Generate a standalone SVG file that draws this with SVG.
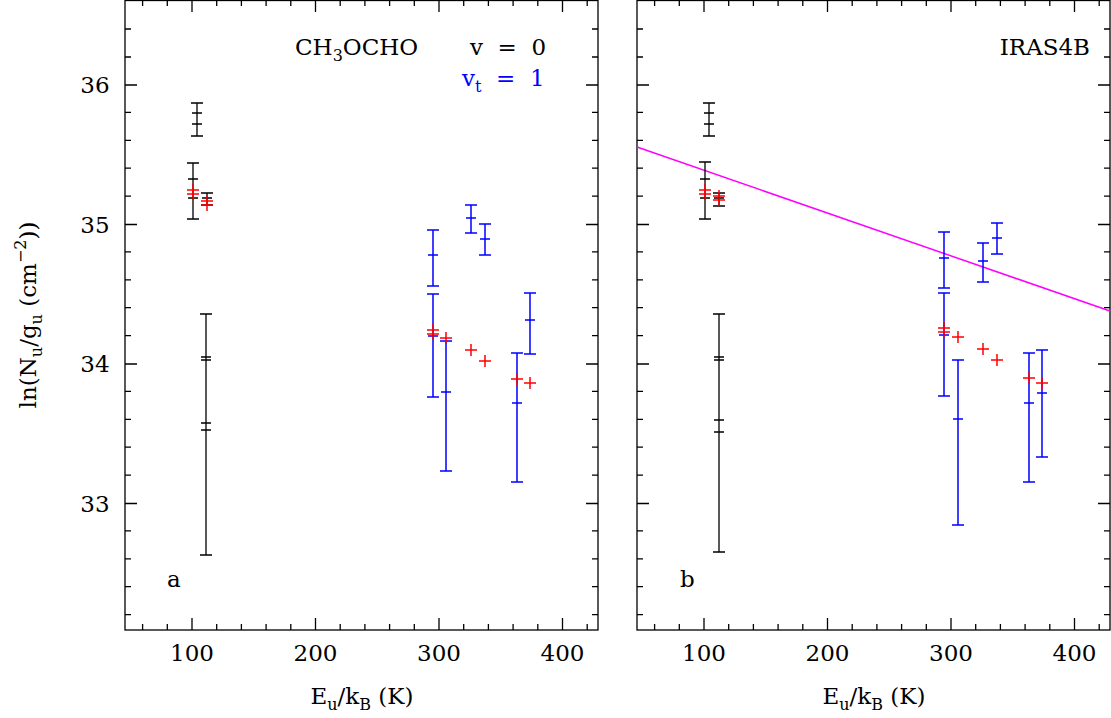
<svg xmlns="http://www.w3.org/2000/svg" xmlns:xlink="http://www.w3.org/1999/xlink" width="1111" height="718" viewBox="0 0 1111 718">
<style>
.ax{fill:none;stroke:#000;stroke-width:1.3}
.k{fill:none;stroke:#000;stroke-width:1.3}
.b{fill:none;stroke:#0000ff;stroke-width:1.5}
.r{fill:none;stroke:#ff0000;stroke-width:1.5}
text{font-family:"DejaVu Serif","Liberation Serif",serif;font-size:23px}
.tl{text-anchor:middle}
</style>
<defs>
<g id="axes">
<rect class="ax" x="125" y="0.5" width="473" height="629.5"/>
<path class="ax" d="M142.6 630v-6M167.3 630v-6M216.7 630v-6M241.4 630v-6M266.1 630v-6M290.8 630v-6M340.2 630v-6M364.9 630v-6M389.6 630v-6M414.3 630v-6M463.7 630v-6M488.4 630v-6M513.1 630v-6M537.8 630v-6M587.2 630v-6M192 630v-12M315.5 630v-12M439 630v-12M562.5 630v-12
M142.6 0v6M167.3 0v6M216.7 0v6M241.4 0v6M266.1 0v6M290.8 0v6M340.2 0v6M364.9 0v6M389.6 0v6M414.3 0v6M463.7 0v6M488.4 0v6M513.1 0v6M537.8 0v6M587.2 0v6M192 0v12M315.5 0v12M439 0v12M562.5 0v12
M125 614.6h6M125 586.7h6M125 558.8h6M125 530.9h6M125 475.1h6M125 447.2h6M125 419.3h6M125 391.4h6M125 335.6h6M125 307.7h6M125 279.8h6M125 251.9h6M125 196.1h6M125 168.2h6M125 140.3h6M125 112.4h6M125 57h6M125 29h6M125 85h12M125 224.5h12M125 364h12M125 503.5h12
M598 614.6h-6M598 586.7h-6M598 558.8h-6M598 530.9h-6M598 475.1h-6M598 447.2h-6M598 419.3h-6M598 391.4h-6M598 335.6h-6M598 307.7h-6M598 279.8h-6M598 251.9h-6M598 196.1h-6M598 168.2h-6M598 140.3h-6M598 112.4h-6M598 57h-6M598 29h-6M598 85h-12M598 224.5h-12M598 364h-12M598 503.5h-12"/>
<g class="tl">
<text x="192" y="661">100</text><text x="315.5" y="661">200</text><text x="439" y="661">300</text><text x="562.5" y="661">400</text>
<text x="362" y="704" xml:space="preserve">E<tspan font-size="16" dy="6">u</tspan><tspan dy="-6">/k</tspan><tspan font-size="16" dy="6">B</tspan><tspan dy="-6"> (K)</tspan></text>
</g>
</g>
</defs>
<use xlink:href="#axes"/>
<use xlink:href="#axes" x="512"/>
<g class="tl">
<text x="95" y="93">36</text><text x="95" y="233">35</text><text x="95" y="372">34</text><text x="95" y="512">33</text>
</g>
<text transform="translate(36,315) rotate(-90)" text-anchor="middle" xml:space="preserve">ln(N<tspan font-size="16" dy="6">u</tspan><tspan dy="-6">/g</tspan><tspan font-size="16" dy="6">u</tspan><tspan dy="-6"> (cm</tspan><tspan font-size="16" dy="-10">−2</tspan><tspan dy="10">))</tspan></text>
<text x="295" y="55">CH<tspan font-size="16" dy="6">3</tspan><tspan dy="-6">OCHO</tspan></text>
<text x="470" y="55" xml:space="preserve">v  =  0</text>
<text x="462" y="86" fill="#0000ff" xml:space="preserve">v<tspan font-size="16" dy="6">t</tspan><tspan dy="-6">  =  1</tspan></text>
<text x="167" y="587">a</text>
<text x="680" y="587">b</text>
<text x="1090" y="55" text-anchor="end">IRAS4B</text>
<g id="fit"><path d="M637 147L1110 311" stroke="#ff00ff" stroke-width="1.5" fill="none"/></g>
<g id="data-a">
<path class="k" d="M197 103V136M191 103h12M191 136h12M192 113h10M192 124h10
M193 163V219M187 163h12M187 219h12M188 179h10M188 198h10
M207 193V205M201 193h12M201 205h12M202 198h10
M206 314V555M200 314h12M200 555h12M201 357h10M201 360h10M201 423h10M201 430h10"/>
<path class="b" d="M433 230V286M427 230h12M427 286h12M428 255h10
M433 294V397M427 294h12M427 397h12M428 336h10
M446 341V471M440 341h12M440 471h12M441 392h10
M471 205V233M465 205h12M465 233h12M466 218h10
M485 224V255M479 224h12M479 255h12M480 239h10
M517 353V482M511 353h12M511 482h12M512 403h10
M530 293V354M524 293h12M524 354h12M525 320h10"/>
<path class="r" d="M187 190h12M193 184v12M187 194h12M193 188v12M201 201h12M207 195v12M201 205h12M207 199v12
M427 330h12M433 324v12M427 334h12M433 328v12M440 338h12M446 332v12M465 350h12M471 344v12M479 361h12M485 355v12M511 379h12M517 373v12M524 383h12M530 377v12"/>
</g>
<g id="data-b">
<path class="k" d="M709 103V136M703 103h12M703 136h12M704 113h10M704 124h10
M705 162V219M699 162h12M699 219h12M700 179h10M700 198h10
M719 193V206M713 193h12M713 206h12M714 198h10
M719 314V552M713 314h12M713 552h12M714 357h10M714 360h10M714 420h10M714 432h10"/>
<path class="b" d="M944 232V288M938 232h12M938 288h12M939 258h10
M944 293V396M938 293h12M938 396h12M939 335h10
M958 360V525M952 360h12M952 525h12M953 419h10
M983 243V282M977 243h12M977 282h12M978 261h10
M997 223V254M991 223h12M991 254h12M992 238h10
M1029 353V482M1023 353h12M1023 482h12M1024 403h10
M1042 350V457M1036 350h12M1036 457h12M1037 393h10"/>
<path class="r" d="M699 190h12M705 184v12M699 194h12M705 188v12M713 196h12M719 190v12M713 200h12M719 194v12
M938 328h12M944 322v12M938 332h12M944 326v12M952 337h12M958 331v12M977 349h12M983 343v12M991 360h12M997 354v12M1023 378h12M1029 372v12M1036 383h12M1042 377v12"/>
</g>
</svg>
